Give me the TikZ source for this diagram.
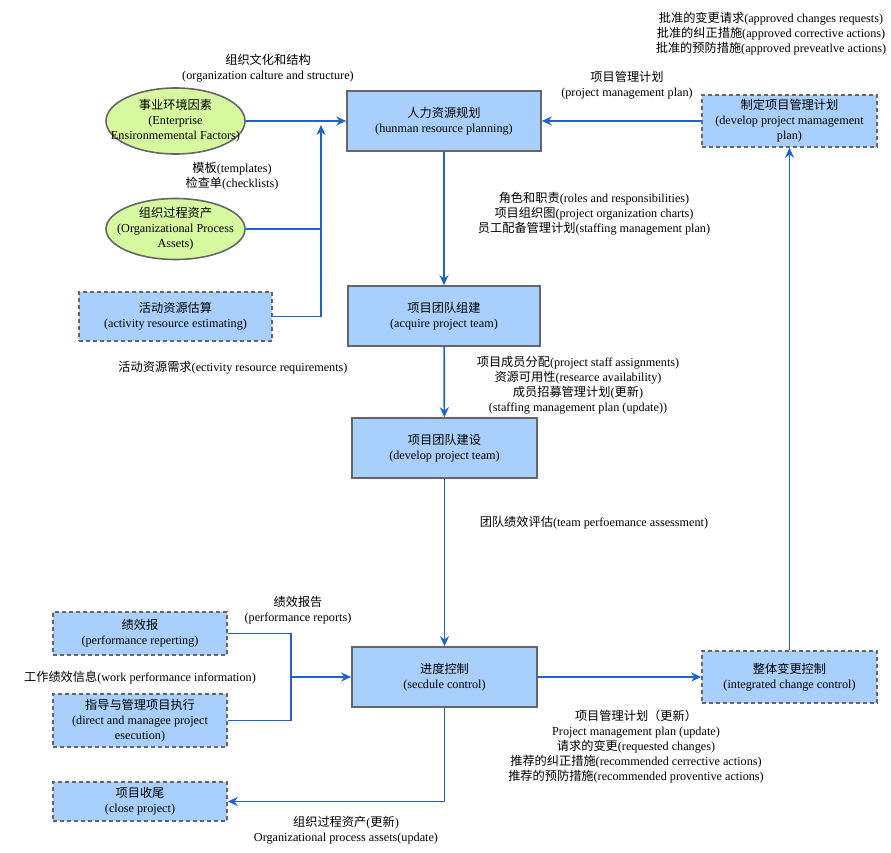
\documentclass[tikz,border=0pt]{standalone}
\usepackage{fontspec}
\setmainfont{Liberation Serif}
\newfontfamily\zhfont{Noto Sans CJK SC}
\newcommand\zh[1]{{\zhfont #1}}
\newcommand\ovl[1]{\makebox[0pt]{#1}}
\usepackage{tikz}
\usetikzlibrary{shapes.geometric,arrows.meta}
\definecolor{boxblue}{RGB}{169,208,252}
\definecolor{ovalgreen}{RGB}{214,249,160}
\definecolor{linkblue}{RGB}{30,100,200}
\definecolor{rimgray}{RGB}{102,102,102}

\begin{document}
\begin{tikzpicture}[x=1pt, y=-1pt, font=\fontsize{12.2}{15}\selectfont,
  proc/.style={draw=rimgray, line width=1.6pt, fill=boxblue, align=center, inner sep=0pt},
  ext/.style={proc, dash pattern=on 4pt off 3pt},
  oval/.style={ellipse, draw=rimgray, line width=1.6pt, fill=ovalgreen, align=center, inner sep=0pt, minimum width=139pt},
  flow/.style={draw=linkblue, line width=1.7pt, -{Stealth[length=10pt,width=9pt]}},
  link/.style={draw=linkblue, line width=1.7pt},
  note/.style={align=center, inner sep=0pt}]
\useasboundingbox (0,0) rectangle (891,853);

\node[proc, minimum width=194pt, minimum height=60pt] (hrp) at (444,121) {\zh{人力资源规划}\\(hunman resource planning)};
\node[proc, minimum width=192pt, minimum height=60pt] (acq) at (444,316) {\zh{项目团队组建}\\(acquire project team)};
\node[proc, minimum width=185pt, minimum height=60pt] (dev) at (444.5,448) {\zh{项目团队建设}\\(develop project team)};
\node[proc, minimum width=185pt, minimum height=60pt] (sc) at (444.5,677) {\zh{进度控制}\\(secdule control)};

\node[oval, minimum height=66pt] (eef) at (175.5,121) {\ovl{\zh{事业环境因素}}\\\ovl{(Enterprise}\\\ovl{Ensironmemental Factors)}};
\node[oval, minimum height=61pt] (opa) at (175.5,229) {\ovl{\zh{组织过程资产}}\\\ovl{(Organizational Process}\\\ovl{Assets)}};
\node[ext, minimum width=193pt, minimum height=49pt] (are) at (175.5,316.5) {\zh{活动资源估算}\\(activity resource estimating)};
\node[ext, minimum width=175pt, minimum height=52pt] (dpmp) at (789.5,121) {\zh{制定项目管理计划}\\(develop project mamagement\\plan)};
\node[ext, minimum width=175pt, minimum height=52pt] (icc) at (789.5,677) {\zh{整体变更控制}\\(integrated change control)};
\node[ext, minimum width=174pt, minimum height=43pt] (perf) at (140,633.5) {\zh{绩效报}\\(performance reperting)};
\node[ext, minimum width=174pt, minimum height=53pt] (dme) at (140,720.5) {\zh{指导与管理项目执行}\\(direct and managee project\\esecution)};
\node[ext, minimum width=174pt, minimum height=39pt] (close) at (140,801.5) {\zh{项目收尾}\\(close project)};

\coordinate (injoin) at (321,125);
\coordinate (repjoin) at (291,677);

\draw[flow] (eef) -- (hrp);
\draw[flow] (are) -| (injoin);
\draw[link] (opa) -- (opa -| injoin);
\draw[flow] (dpmp) -- (hrp);
\draw[flow] (hrp) -- (acq);
\draw[flow] (acq) -- (dev);
\draw[flow] (dev) -- (sc);
\draw[link] (perf) -| (repjoin);
\draw[link] (dme) -| (repjoin);
\draw[flow] (repjoin) -- (sc);
\draw[flow] (sc) -- (icc);
\draw[flow] (icc) -- (dpmp);
\draw[flow] (sc) |- (close);

\node[note] (lcult) at (268,68) {\zh{组织文化和结构}\\(organization calture and structure)};
\node[note] (ltpl) at (232,176) {\zh{模板}(templates)\\\zh{检查单}(checklists)};
\node[note] (lreq) at (233,368) {\zh{活动资源需求}(ectivity resource requirements)};
\node[note] (lpmp) at (627,85) {\zh{项目管理计划}\\(project management plan)};
\node[note] (lappr) at (771,34) {\zh{批准的变更请求}(approved changes requests)\\\zh{批准的纠正措施}(approved corrective actions)\\\zh{批准的预防措施}(approved preveatlve actions)};
\node[note] (lroles) at (594,214) {\zh{角色和职责}(roles and responsibilities)\\\zh{项目组织图}(project organization charts)\\\zh{员工配备管理计划}(staffing management plan)};
\node[note] (lstaff) at (578,385) {\zh{项目成员分配}(project staff assignments)\\\zh{资源可用性}(researce availability)\\\zh{成员招募管理计划}(\zh{更新})\\(staffing management plan (update))};
\node[note] (lteam) at (594,523) {\zh{团队绩效评估}(team perfoemance assessment)};
\node[note] (lrep) at (298,610) {\zh{绩效报告}\\(performance reports)};
\node[note] (lwpi) at (140,678) {\zh{工作绩效信息}(work performance information)};
\node[note] (lupd) at (636,747) {\zh{项目管理计划（更新）}\\Project management plan (update)\\\zh{请求的变更}(requested changes)\\\zh{推荐的纠正措施}(recommended cerrective actions)\\\zh{推荐的预防措施}(recommended proventive actions)};
\node[note] (lopa) at (346,830.5) {\zh{组织过程资产}(\zh{更新})\\Organizational process assets(update)};
\end{tikzpicture}
\end{document}
